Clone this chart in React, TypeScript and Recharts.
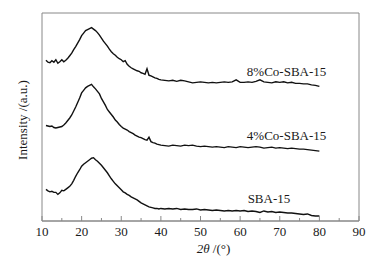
import React from "react";
import { LineChart, Line, XAxis, YAxis, ReferenceArea, ReferenceDot } from "recharts";

const theta = [
  11, 11.5, 12, 12.5, 13, 13.5, 14, 14.5, 15, 15.5, 16, 16.5, 17, 17.5, 18, 18.5, 19, 19.5,
  20, 20.5, 21, 21.5, 22, 22.5, 23, 23.5, 24, 24.5, 25, 25.5, 26, 26.5, 27, 27.5, 28, 28.5,
  29, 29.5, 30, 30.5, 31, 31.5, 32, 32.5, 33, 33.5, 34, 34.5, 35, 35.5, 36, 36.5, 37, 37.5,
  38, 38.5, 39, 39.5, 40, 41, 42, 43, 44, 45, 46, 47, 48, 49, 50, 51, 52, 53, 54, 55, 56,
  57, 58, 59, 60, 61, 62, 63, 64, 65, 66, 67, 68, 69, 70, 71, 72, 73, 74, 75, 76, 77, 78,
  79, 80,
];

const co8 = [
  160, 158, 157.5, 159.5, 158, 160.5, 157, 158.5, 160.5, 158.5, 160, 162, 164.5, 167, 170.5, 173.5, 177, 180.5,
  184.5, 187, 189.5, 190.5, 191.5, 192.5, 191, 189.5, 187.5, 185, 182, 179, 176.5, 174, 171, 168.5, 166.5, 165,
  163, 161.5, 160.5, 158.5, 159.5, 156, 154, 152.5, 151.5, 150.5, 149.5, 149, 147.5, 147, 146, 151.5, 145, 144.5,
  143.5, 142.5, 142, 141, 140.5, 140, 139.5, 140, 139, 140, 139.5, 138.5, 137.5, 138, 138.5, 138, 137.5, 138, 137.5, 138, 138.5,
  138, 138.5, 140.5, 138, 138, 138.5, 138, 139, 140.5, 138.5, 138, 137.5, 138.5, 138, 138.5, 137.5, 138, 137, 137, 136.5, 136.5, 135.5,
  135, 134,
];

const co4 = [
  95, 94.5, 94, 94.5, 93, 92.5, 93, 93.5, 94, 95.5, 97.5, 100, 102.5, 105.5, 109.5, 113.5, 118, 122.5,
  127.5, 130, 132.5, 134, 135, 136, 133.5, 131.5, 129, 126.5, 122, 118.5, 115, 111, 108.5, 106, 103.5, 100.5,
  98.5, 96, 94, 92.5, 91.5, 90.5, 89, 88, 87, 85.5, 84.5, 83.5, 83, 82, 81, 80.5, 83.5, 79,
  78, 77.5, 76.5, 76, 75.5, 75, 74.5, 75.5, 75, 74.5, 75.5, 75, 75.5, 74.5, 74, 74.5, 74, 73.5, 74, 73.5, 73,
  74, 73.5, 73, 74, 73.5, 73, 73.5, 74, 73.5, 72.5, 73, 73.5, 72.5, 73, 72.5, 72, 72.5, 72, 71.5, 71.5, 71, 70.5,
  70, 69.5,
];

const sba = [
  31.5, 30, 29, 29.5, 28.5, 28.5, 26.5, 28, 30.5, 30, 31.5, 33, 34.5, 37, 40.5, 44.5, 48, 51,
  54.5, 56.5, 58, 59.5, 61, 62.5, 63, 61, 59.5, 57.5, 55.5, 53, 50.5, 48, 45, 42, 39.5, 37,
  35, 33, 31, 29, 28, 26.5, 25.5, 24, 23, 22, 21, 19.5, 18, 17, 16, 15, 14, 13.5,
  13, 12.5, 12.5, 12, 12.5, 12, 12.5, 12, 12.5, 11.5, 12, 11.5, 11.5, 12, 11, 11.5, 11, 10.5, 11, 10.5, 10,
  10.5, 10, 10.5, 10, 10.5, 9.5, 10, 9.5, 8.5, 10, 9, 9.5, 8.5, 9, 8.5, 8, 8, 7.5, 7, 6.5, 7, 5.5,
  5, 5,
];

const xTicks = [10, 15, 20, 25, 30, 35, 40, 45, 50, 55, 60, 65, 70, 75, 80, 85, 90];
const seriesNames = ["8%Co-SBA-15", "4%Co-SBA-15", "SBA-15"];
const labelTheta = [61.7, 61.7, 61.9];
const labelValue = [149, 85, 22];
const yLabel = "Intensity /(a.u.)";

const data = theta.map((t, i) => ({ t, co8: co8[i], co4: co4[i], sba: sba[i] }));

const FONT = '"Liberation Serif", "Times New Roman", serif';
const AXIS = "#888";
const TEXT = "#1a1a1a";

const Tick = (props: any) => {
  const { x, y, payload } = props;
  const major = payload.value % 10 === 0;
  return (
    <g>
      <line x1={x} x2={x} y1={y} y2={y - (major ? 5 : 3)} stroke={AXIS} strokeWidth={1} />
      {major && (
        <text x={x} y={y + 10} textAnchor="middle" dominantBaseline="central" fontFamily={FONT} fontSize={13} fill={TEXT}>
          {payload.value}
        </text>
      )}
    </g>
  );
};

const SeriesLabel = (text: string) => (props: any) => {
  const vb = props.viewBox || {};
  const x = vb.x + (vb.width || 0) / 2;
  const y = vb.y + (vb.height || 0) / 2;
  return (
    <text x={x} y={y} textAnchor="start" dominantBaseline="central" fontFamily={FONT} fontSize={13} fill={TEXT}>
      {text}
    </text>
  );
};

const YLabel = (props: any) => {
  const vb = props.viewBox;
  const x = vb.x - 20;
  const y = vb.y + vb.height / 2 + 3;
  return (
    <text x={x} y={y} transform={`rotate(-90 ${x} ${y})`} textAnchor="middle" dominantBaseline="central" fontFamily={FONT} fontSize={13} fill={TEXT}>
      {yLabel}
    </text>
  );
};

const XLabel = (props: any) => {
  const vb = props.viewBox;
  const x = vb.x + vb.width / 2 + 13;
  const y = vb.y + 27;
  return (
    <text x={x} y={y} textAnchor="middle" dominantBaseline="central" fontFamily={FONT} fontSize={13} fill={TEXT}>
      <tspan fontStyle="italic">2θ</tspan>
      <tspan> /(°)</tspan>
    </text>
  );
};

export default function App() {
  return (
    <div style={{ position: "absolute", left: 0, top: 0, width: 385, height: 261, background: "#fff" }}>
      <LineChart width={385} height={261} data={data} margin={{ top: 13, right: 26, left: 42, bottom: 10 }}>
        <XAxis
          dataKey="t"
          type="number"
          domain={[10, 90]}
          ticks={xTicks}
          interval={0}
          height={30}
          tickSize={0}
          tickMargin={0}
          tickLine={false}
          axisLine={{ stroke: AXIS }}
          tick={<Tick />}
          label={<XLabel />}
        />
        <YAxis hide width={0} type="number" domain={[0, 207]} />
        <ReferenceArea x1={10} x2={90} y1={0} y2={207} fill="none" stroke={AXIS} strokeWidth={1} ifOverflow="visible" label={<YLabel />} />
        <Line dataKey="co8" type="linear" stroke="#111" strokeWidth={1.4} dot={false} isAnimationActive={false} />
        <Line dataKey="co4" type="linear" stroke="#111" strokeWidth={1.4} dot={false} isAnimationActive={false} />
        <Line dataKey="sba" type="linear" stroke="#111" strokeWidth={1.4} dot={false} isAnimationActive={false} />
        {seriesNames.map((name, i) => (
          <ReferenceDot key={name} x={labelTheta[i]} y={labelValue[i]} r={0} fill="none" stroke="none" ifOverflow="visible" label={SeriesLabel(name)} />
        ))}
      </LineChart>
    </div>
  );
}
